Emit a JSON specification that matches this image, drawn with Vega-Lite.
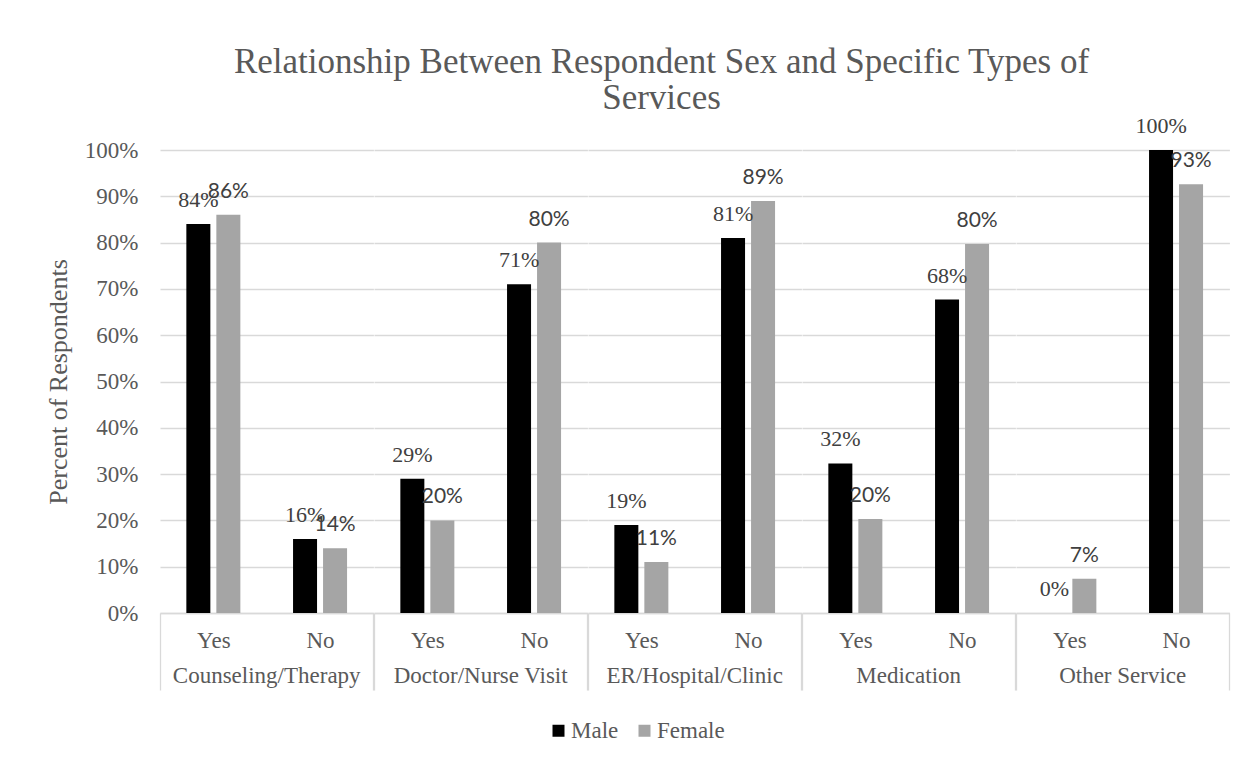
{
  "$schema": "https://vega.github.io/schema/vega-lite/v6.json",
  "background": "white",
  "padding": {"left": 45, "top": 45, "right": 25, "bottom": 10},
  "title": {
    "text": ["Relationship Between Respondent Sex and Specific Types of", "Services"],
    "font": "Liberation Serif",
    "fontSize": 35,
    "fontWeight": "normal",
    "color": "#595959",
    "lineHeight": 36,
    "anchor": "middle",
    "dx": 24,
    "offset": -1
  },
  "data": {
    "values": [
      {"service": "Counseling/Therapy", "answer": "Yes", "sex": "Male", "pct": 0.84},
      {"service": "Counseling/Therapy", "answer": "Yes", "sex": "Female", "pct": 0.86},
      {"service": "Counseling/Therapy", "answer": "No", "sex": "Male", "pct": 0.16},
      {"service": "Counseling/Therapy", "answer": "No", "sex": "Female", "pct": 0.14},
      {"service": "Doctor/Nurse Visit", "answer": "Yes", "sex": "Male", "pct": 0.29},
      {"service": "Doctor/Nurse Visit", "answer": "Yes", "sex": "Female", "pct": 0.20},
      {"service": "Doctor/Nurse Visit", "answer": "No", "sex": "Male", "pct": 0.71},
      {"service": "Doctor/Nurse Visit", "answer": "No", "sex": "Female", "pct": 0.80},
      {"service": "ER/Hospital/Clinic", "answer": "Yes", "sex": "Male", "pct": 0.19},
      {"service": "ER/Hospital/Clinic", "answer": "Yes", "sex": "Female", "pct": 0.11},
      {"service": "ER/Hospital/Clinic", "answer": "No", "sex": "Male", "pct": 0.81},
      {"service": "ER/Hospital/Clinic", "answer": "No", "sex": "Female", "pct": 0.89},
      {"service": "Medication", "answer": "Yes", "sex": "Male", "pct": 0.323},
      {"service": "Medication", "answer": "Yes", "sex": "Female", "pct": 0.203},
      {"service": "Medication", "answer": "No", "sex": "Male", "pct": 0.677},
      {"service": "Medication", "answer": "No", "sex": "Female", "pct": 0.797},
      {"service": "Other Service", "answer": "Yes", "sex": "Male", "pct": 0.0},
      {"service": "Other Service", "answer": "Yes", "sex": "Female", "pct": 0.074},
      {"service": "Other Service", "answer": "No", "sex": "Male", "pct": 1.0},
      {"service": "Other Service", "answer": "No", "sex": "Female", "pct": 0.926}
    ]
  },
  "facet": {
    "column": {
      "field": "service",
      "type": "nominal",
      "sort": ["Counseling/Therapy", "Doctor/Nurse Visit", "ER/Hospital/Clinic", "Medication", "Other Service"],
      "header": {
        "title": null,
        "labelOrient": "bottom",
        "labelFont": "Liberation Serif",
        "labelFontSize": 23,
        "labelColor": "#595959",
        "labelPadding": -26
      }
    }
  },
  "spacing": 0,
  "spec": {
    "width": 213.4,
    "height": 463,
    "encoding": {
      "x": {
        "field": "answer",
        "type": "nominal",
        "sort": ["Yes", "No"],
        "title": null,
        "scale": {"paddingInner": 0, "paddingOuter": 0},
        "axis": {
          "labelFont": "Liberation Serif",
          "labelFontSize": 23,
          "labelColor": "#595959",
          "labelAngle": 0,
          "labelPadding": -61,
          "domainColor": "#d9d9d9",
          "domainWidth": 1.3,
          "tickBand": "extent",
          "tickSize": 77,
          "tickWidth": 1.3,
          "tickColor": {"condition": {"test": "datum.value === 'Yes'", "value": "rgba(0,0,0,0)"}, "value": "#d9d9d9"},
          "grid": false
        }
      },
      "xOffset": {
        "field": "sex",
        "type": "nominal",
        "scale": {"domain": ["Male", "Female"], "paddingInner": 0.2, "paddingOuter": 0.878}
      },
      "y": {
        "field": "pct",
        "type": "quantitative",
        "scale": {"domain": [0, 1]},
        "axis": {
          "values": [0, 0.1, 0.2, 0.3, 0.4, 0.5, 0.6, 0.7, 0.8, 0.9, 1],
          "format": ".0%",
          "title": "Percent of Respondents",
          "titleFont": "Liberation Serif",
          "titleFontSize": 26,
          "titleFontWeight": "normal",
          "titleColor": "#595959",
          "titlePadding": 13,
          "labelFont": "Liberation Serif",
          "labelFontSize": 23,
          "labelColor": "#595959",
          "labelPadding": 22,
          "domain": false,
          "ticks": false,
          "gridColor": "#d9d9d9",
          "gridWidth": 1.3
        }
      }
    },
    "layer": [
      {
        "mark": {"type": "bar"},
        "encoding": {
          "color": {
            "field": "sex",
            "type": "nominal",
            "scale": {"domain": ["Male", "Female"], "range": ["#000000", "#a5a5a5"]},
            "legend": {
              "orient": "none",
              "legendX": 387,
              "legendY": 569,
              "direction": "horizontal",
              "title": null,
              "symbolType": "square",
              "symbolSize": 144,
              "symbolStrokeWidth": 0,
              "labelFont": "Liberation Serif",
              "labelFontSize": 23,
              "labelColor": "#595959",
              "labelOffset": 1,
              "columnPadding": 14
            }
          }
        }
      },
      {
        "transform": [{"filter": "datum.sex === 'Male'"}],
        "mark": {"type": "text", "font": "Liberation Serif", "fontSize": 22, "color": "#404040", "baseline": "alphabetic", "dy": -17},
        "encoding": {"text": {"field": "pct", "type": "quantitative", "format": ".0%"}}
      },
      {
        "transform": [{"filter": "datum.sex === 'Female'"}],
        "mark": {"type": "text", "font": "Lato", "fontSize": 21, "color": "#404040", "baseline": "alphabetic", "dy": -17},
        "encoding": {"text": {"field": "pct", "type": "quantitative", "format": ".0%"}}
      }
    ]
  },
  "config": {
    "view": {"stroke": null}
  }
}
